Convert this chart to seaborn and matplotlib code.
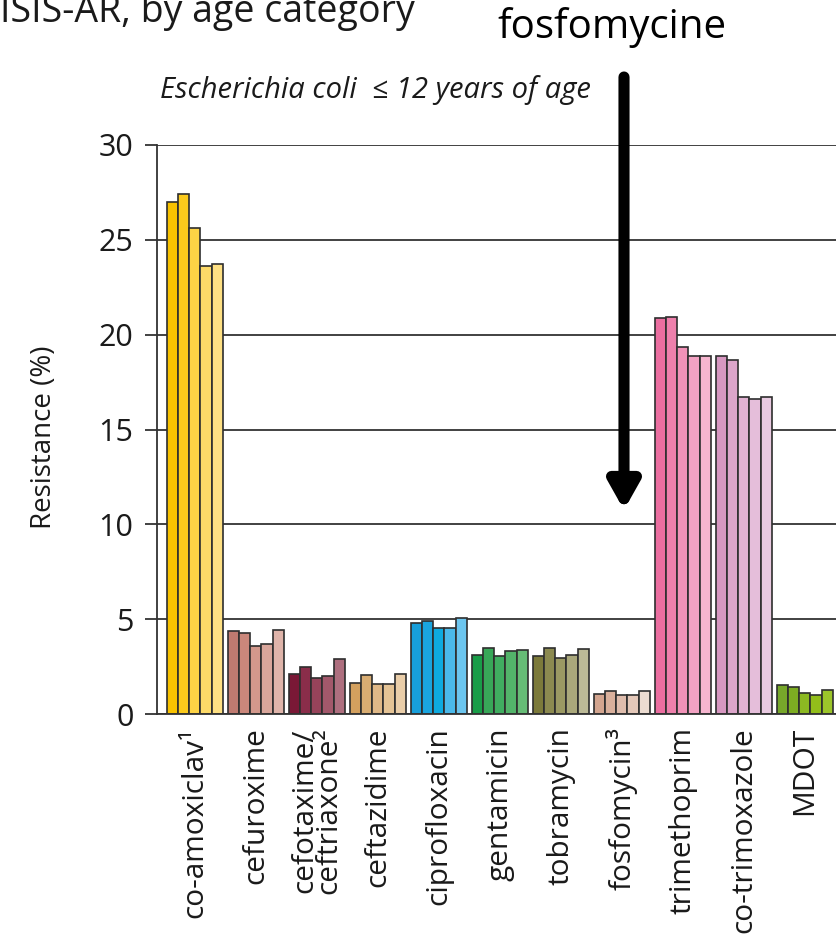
import matplotlib
matplotlib.use("Agg")
import matplotlib.pyplot as plt
import numpy as np
import pandas as pd
import seaborn as sns

# antibiotics and age categories (5 bars per antibiotic)
antibiotics = ["co-amoxiclav¹", "cefuroxime", "cefotaxime/\nceftriaxone²", "ceftazidime",
               "ciprofloxacin", "gentamicin", "tobramycin", "fosfomycin³",
               "trimethoprim", "co-trimoxazole", "MDOT"]
ages = ["a1", "a2", "a3", "a4", "a5"]

resistance = [
    [27.0, 27.4, 25.6, 23.6, 23.7],   # co-amoxiclav
    [4.35, 4.25, 3.6, 3.7, 4.45],     # cefuroxime
    [2.1, 2.5, 1.92, 2.0, 2.9],       # cefotaxime/ceftriaxone
    [1.65, 2.05, 1.6, 1.6, 2.1],      # ceftazidime
    [4.82, 4.89, 4.55, 4.55, 5.07],   # ciprofloxacin
    [3.13, 3.5, 3.06, 3.32, 3.39],    # gentamicin
    [3.06, 3.48, 2.93, 3.13, 3.45],   # tobramycin
    [1.08, 1.22, 1.0, 1.0, 1.22],     # fosfomycin
    [20.88, 20.93, 19.35, 18.86, 18.86],  # trimethoprim
    [18.86, 18.65, 16.7, 16.61, 16.7],    # co-trimoxazole
    [1.55, 1.43, 1.1, 1.02, 1.24],    # MDOT
]

bar_colors = [
    ["#f8c200", "#fbca1c", "#fdd345", "#fdda68", "#fee083"],
    ["#bf7a70", "#cb877b", "#d3988c", "#d9a69b", "#dfb4aa"],
    ["#7a1836", "#8a2d4a", "#97435a", "#a3586b", "#ae6f7f"],
    ["#d3a05e", "#d9ad72", "#dfb887", "#e4c395", "#eacea9"],
    ["#179fdb", "#1aa5df", "#0eaadf", "#4bb9ea", "#6cc5ee"],
    ["#199d48", "#38a758", "#40ad60", "#53b46a", "#66bc76"],
    ["#7c7a3a", "#8c8a50", "#9b9963", "#aaa87b", "#bcba97"],
    ["#d3a58f", "#d9b09c", "#dfbdad", "#e4c8b9", "#ecdcd1"],
    ["#eb6ea0", "#ee80ac", "#f192b8", "#f3a2c3", "#f6b5cf"],
    ["#d797c1", "#dca5ca", "#e1b2d2", "#e5beda", "#e9cae1"],
    ["#77a72a", "#7dad22", "#8cb922", "#92be1a", "#9cc52a"],
]

df = pd.DataFrame({
    "antibiotic": np.repeat(antibiotics, len(ages)),
    "age": ages * len(antibiotics),
    "resistance": np.ravel(resistance),
})

sns.set_style("white")
plt.rcParams["font.family"] = ["Open Sans", "DejaVu Sans"]

fig = plt.figure(figsize=(8.36, 9.49), dpi=100)
ax = fig.add_axes([157 / 836, 1 - 714 / 949, 1 - 157 / 836, (714 - 145) / 949])

sns.barplot(data=df, x="antibiotic", y="resistance", hue="age", order=antibiotics,
            hue_order=ages, width=0.92, gap=0, legend=False, ax=ax,
            edgecolor="#2e2e2e", linewidth=1.2, palette=["#999999"] * 5, saturation=1)

# colour each bar by antibiotic group and age shade
for j, cont in enumerate(ax.containers):
    for i, bar in enumerate(cont):
        bar.set_facecolor(bar_colors[i][j])

ax.set_ylim(0, 30)
ax.set_xlim(-0.62, 10.51)
ax.set_yticks(range(0, 31, 5))
ax.yaxis.grid(True, color="#333333", linewidth=1.3)
ax.set_axisbelow(True)
for s in ["top", "right"]:
    ax.spines[s].set_visible(False)
ax.spines["left"].set_color("#333333")
ax.spines["left"].set_linewidth(1.3)
ax.spines["bottom"].set_color("#333333")
ax.spines["bottom"].set_linewidth(1.3)
ax.tick_params(axis="y", which="major", left=True, length=9, width=1.3, color="#333333",
               labelsize=22, pad=8, labelcolor="#1a1a1a")
ax.tick_params(axis="x", bottom=False, pad=6)
ax.set_xticks(range(len(antibiotics)))
ax.set_xticklabels(antibiotics, rotation=90, fontsize=21.5, va="top", ha="center",
                   linespacing=0.8, color="#1a1a1a")
ax.set_xlabel("")
ax.set_ylabel("Resistance (%)", fontsize=20, color="#1a1a1a")
ax.yaxis.set_label_coords(-0.146, 0.487)

fig.text(0.0, 1 - 22 / 949, "ISIS-AR, by age category", fontsize=27, color="#1a1a1a",
         ha="left", va="baseline")
fig.text(160 / 836, 1 - 90 / 949, "Escherichia coli  ≤ 12 years of age", fontsize=21,
         style="italic", color="#1a1a1a", ha="left", va="center")
fig.text(612 / 836, 1 - 28 / 949, "fosfomycine", fontsize=29, color="black",
         ha="center", va="center")

# arrow pointing down to the fosfomycin bars
ax.annotate("", xy=(624 / 836, 1 - 510 / 949), xytext=(624 / 836, 1 - 77 / 949),
            xycoords="figure fraction", textcoords="figure fraction",
            arrowprops=dict(arrowstyle="-|>,head_length=1.6,head_width=0.9",
                            color="black", lw=8, shrinkA=0, shrinkB=0))

fig.savefig("out.png", dpi=100)
